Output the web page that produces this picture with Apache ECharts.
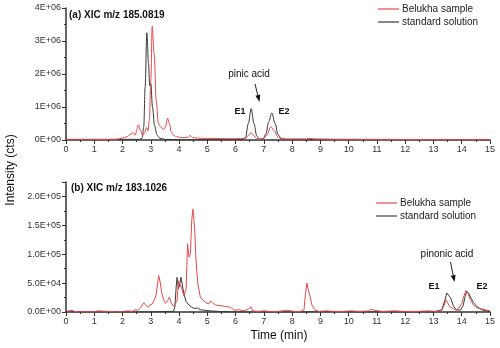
<!DOCTYPE html>
<html>
<head>
<meta charset="utf-8">
<script src="https://cdn.jsdelivr.net/npm/echarts@6/dist/echarts.min.js"></script>
<style>
html, body { margin: 0; padding: 0; background: #fff; }
#chart { width: 500px; height: 348px; }
</style>
</head>
<body>
<div id="chart"></div>
<script>
// series names
var names = ['Belukha sample', 'standard solution'];

// (a) XIC m/z 185.0819  -- [time (min), intensity (cts)]
var sampleA = [
    [0, 1e4], [1, 1e4], [1.8, 2e4], [2.0, 6e4], [2.15, 1e5], [2.3, 1.8e5], [2.37, 2.2e5], [2.45, 1.5e5],
    [2.52, 3.5e5], [2.56, 4.6e5], [2.63, 3e5], [2.7, 1.5e5], [2.77, 2e5], [2.85, 3.8e5], [2.9, 2.8e5],
    [2.95, 6e5], [3.0, 1.8e6], [3.05, 3.45e6], [3.12, 2.6e6], [3.19, 1.2e6], [3.27, 5e5], [3.35, 4e5],
    [3.45, 3.2e5], [3.52, 4e5], [3.59, 6.6e5], [3.66, 5e5], [3.72, 2.5e5], [3.8, 1.5e5], [3.9, 1e5],
    [4.1, 7e4], [4.3, 8e4], [4.4, 1.3e5], [4.5, 7e4], [4.8, 5e4], [5.2, 5e4], [5.6, 4e4], [6.0, 4e4],
    [6.35, 5e4], [6.45, 1.4e5], [6.55, 2.2e5], [6.65, 1.3e5], [6.75, 4e4], [6.88, 2e4], [7.0, 4e4],
    [7.1, 1.5e5], [7.25, 4e5], [7.37, 2.8e5], [7.48, 1e5], [7.6, 4e4], [7.8, 3e4], [8.5, 3e4],
    [8.65, 5e4], [8.8, 3e4], [9.5, 2e4], [12, 1.5e4], [15, 1e4]
];
var standardA = [
    [0, 2e4], [1, 2e4], [2, 2e4], [2.6, 2e4], [2.7, 6e4], [2.75, 4e5], [2.8, 1.6e6], [2.86, 3.25e6],
    [2.92, 2.3e6], [2.96, 1.65e6], [3.0, 1.72e6], [3.06, 1e6], [3.13, 4.5e5], [3.22, 1.5e5], [3.32, 5e4],
    [3.5, 2e4], [4, 1e4], [6.25, 1e4], [6.35, 8e4], [6.45, 5e5], [6.55, 9.5e5], [6.65, 5e5],
    [6.75, 1.2e5], [6.85, 3e4], [6.97, 3e4], [7.07, 1.8e5], [7.17, 5.5e5], [7.28, 8.2e5], [7.4, 5e5],
    [7.5, 1.6e5], [7.62, 4e4], [7.8, 2e4], [15, 1e4]
];

// (b) XIC m/z 183.1026
var sampleB = [
    [0, 2e3], [0.05, 4e3], [0.1, 1e3], [0.2, 3e3], [0.3, 1e3], [0.5, 0], [0.7, 1e3], [1.0, 0], [1.1, 2e3],
    [1.5, 1e3], [1.8, 0], [2.0, 1e3], [2.2, 2e3], [2.35, 1e3], [2.45, 4e3], [2.55, 3e3], [2.65, 8e3],
    [2.75, 1.6e4], [2.82, 1.2e4], [2.9, 8e3], [2.97, 1.2e4], [3.05, 1.4e4], [3.12, 2e4], [3.18, 2.8e4],
    [3.23, 4.5e4], [3.28, 6.3e4], [3.33, 5.2e4], [3.38, 3.5e4], [3.45, 2.2e4], [3.52, 1.5e4], [3.6, 2e4],
    [3.66, 2.6e4], [3.72, 1.6e4], [3.8, 1e4], [3.87, 1.3e4], [3.93, 2e4], [3.98, 5.4e4], [4.04, 5.7e4],
    [4.1, 4e4], [4.17, 2.8e4], [4.25, 4e4], [4.3, 1.18e5], [4.35, 9.5e4], [4.4, 1e5], [4.45, 1.6e5],
    [4.49, 1.78e5], [4.55, 1.45e5], [4.6, 9e4], [4.66, 5e4], [4.75, 2.6e4], [4.85, 2e4], [4.95, 1.6e4],
    [5.05, 1.4e4], [5.12, 1.9e4], [5.2, 1.5e4], [5.3, 1.2e4], [5.45, 1.1e4], [5.6, 1e4], [5.75, 9e3],
    [5.85, 7e3], [5.95, 3e3], [6.1, 4e3], [6.3, 2e3], [6.45, 5e3], [6.55, 9e3], [6.6, 2e3], [6.8, 1e3],
    [7.0, 2e3], [7.2, 1e3], [7.5, 1e3], [7.8, 3e3], [7.95, 2e3], [8.1, 1e3], [8.3, 1e3], [8.42, 4e3],
    [8.47, 3e4], [8.52, 5e4], [8.57, 3.8e4], [8.63, 2.8e4], [8.7, 1.2e4], [8.8, 4e3], [8.95, 1e3],
    [9.2, 2e3], [9.5, 1e3], [9.8, 1e3], [10.1, 2e3], [10.4, 1e3], [10.7, 2e3], [10.8, 5e3], [10.9, 3e3],
    [11.2, 1e3], [11.6, 2e3], [12.0, 1e3], [12.4, 1e3], [12.8, 2e3], [13.1, 1e3], [13.3, 3e3],
    [13.38, 1.2e4], [13.44, 2.1e4], [13.5, 1.6e4], [13.58, 9e3], [13.7, 6e3], [13.8, 3e3], [13.9, 7e3],
    [14.0, 1.5e4], [14.08, 2.8e4], [14.15, 3.7e4], [14.22, 3.2e4], [14.3, 2.2e4], [14.4, 1.3e4],
    [14.5, 8e3], [14.6, 6e3], [14.75, 5e3], [14.9, 3e3], [15, 2e3]
];
var standardB = [
    [0, 1e3], [0.2, 2e3], [0.3, 0], [1.0, 0], [2, 0], [3, 0], [3.5, 1e3], [3.8, 1e3], [3.85, 8e3],
    [3.9, 4.5e4], [3.93, 6e4], [3.98, 4e4], [4.03, 5e4], [4.07, 6e4], [4.12, 4.5e4], [4.18, 3e4],
    [4.25, 1.8e4], [4.35, 1.2e4], [4.45, 8e3], [4.55, 6e3], [4.65, 7e3], [4.75, 4e3], [4.9, 3e3],
    [5.1, 2e3], [5.4, 1e3], [6, 0], [8, 0], [10, 1e3], [10.2, 0], [13, 0], [13.3, 4e3], [13.4, 2e4],
    [13.47, 3.3e4], [13.52, 3.4e4], [13.6, 2.5e4], [13.7, 1.1e4], [13.8, 4e3], [13.95, 3e3], [14.05, 1.1e4],
    [14.12, 2.7e4], [14.18, 3.6e4], [14.25, 3.2e4], [14.32, 2.5e4], [14.42, 1.6e4], [14.55, 9e3],
    [14.7, 4e3], [14.85, 2e3], [15, 1e3]
];

var red = '#e5484b', dark = '#3a3a3a', axisCol = '#333';
var font = '"Liberation Sans", Arial, sans-serif';

function fmtA(v) {
    if (v == 0) return '0E+00';
    return (v / 1e6) + 'E+06';
}
function fmtB(v) {
    if (v == 0) return '0.0E+00';
    var e = Math.floor(Math.log10(v) + 1e-9);
    return (v / Math.pow(10, e)).toFixed(1) + 'E+0' + e;
}

function xAxisFor(idx) {
    return {
        type: 'value', gridIndex: idx, min: 0, max: 15, interval: 1,
        axisLine: {lineStyle: {color: axisCol, width: 1.5}},
        axisTick: {inside: false, length: 4, lineStyle: {color: axisCol}},
        minorTick: {show: true, splitNumber: 2, length: 2, lineStyle: {color: axisCol}},
        axisLabel: {color: '#333', fontSize: 9, fontFamily: font, margin: 5},
        splitLine: {show: false}
    };
}
function yAxisFor(idx, max, interval, fmt) {
    return {
        type: 'value', gridIndex: idx, min: 0, max: max, interval: interval,
        axisLine: {show: true, lineStyle: {color: axisCol, width: 1.5}},
        axisTick: {show: true, inside: false, length: 4, lineStyle: {color: axisCol}},
        minorTick: {show: true, splitNumber: 2, length: 2, lineStyle: {color: axisCol}},
        axisLabel: {color: '#333', fontSize: 9, fontFamily: font, margin: 5, formatter: fmt, showMaxLabel: idx == 0},
        splitLine: {show: false}
    };
}
function lineSeries(name, data, idx, color, smooth) {
    return {
        name: name, type: 'line', data: data, xAxisIndex: idx, yAxisIndex: idx,
        symbol: 'none', smooth: smooth ? 0.35 : false, smoothMonotone: 'x',
        lineStyle: {color: color, width: 1}, itemStyle: {color: color},
        animation: false
    };
}
function legendAt(left, top) {
    return {
        left: left, top: top, orient: 'vertical', padding: 0, itemGap: 3,
        icon: 'rect', itemWidth: 21, itemHeight: 1.2, data: names,
        textStyle: {fontSize: 10, fontFamily: font, color: '#222', lineHeight: 10, padding: [0, 0, 0, -2]}
    };
}
function arrow(x1, y1, x2, y2) {
    var a = Math.atan2(y2 - y1, x2 - x1), l = 7, w = 2.5;
    var bx = x2 - l * Math.cos(a), by = y2 - l * Math.sin(a);
    return [
        {type: 'line', shape: {x1: x1, y1: y1, x2: bx, y2: by}, style: {stroke: '#222', lineWidth: 1}},
        {type: 'polygon', shape: {points: [[x2, y2],
            [bx + w * Math.sin(a), by - w * Math.cos(a)],
            [bx - w * Math.sin(a), by + w * Math.cos(a)]]}, style: {fill: '#111'}}
    ];
}
function label(text, x, y, opts) {
    var s = {text: text, x: x, y: y, fill: '#111', font: (opts.bold ? 'bold ' : '') + opts.size + 'px ' + font,
        textAlign: opts.align || 'left', textVerticalAlign: 'middle'};
    var el = {type: 'text', style: s};
    if (opts.rotation) { el.rotation = opts.rotation; el.x = x; el.y = y; s.x = 0; s.y = 0; }
    return el;
}

var chart = echarts.init(document.getElementById('chart'), null, {renderer: 'canvas'});
var graphics = [
    label('(a) XIC m/z 185.0819', 69, 15, {size: 10, bold: true}),
    label('(b) XIC m/z 183.1026', 71, 188, {size: 10, bold: true}),
    label('pinic acid', 249, 74, {size: 10, align: 'center'}),
    label('E1', 240, 112, {size: 9, bold: true, align: 'center'}),
    label('E2', 284, 112, {size: 9, bold: true, align: 'center'}),
    label('pinonic acid', 447, 254, {size: 10, align: 'center'}),
    label('E1', 434, 287, {size: 9, bold: true, align: 'center'}),
    label('E2', 482, 287, {size: 9, bold: true, align: 'center'}),
    label('Time (min)', 279, 336, {size: 12, align: 'center'}),
    label('Intensity (cts)', 11, 170, {size: 12, align: 'center', rotation: Math.PI / 2})
].concat(arrow(255, 84, 259.5, 102)).concat(arrow(450.5, 262, 454.5, 282));

chart.setOption({
    backgroundColor: '#fff',
    animation: false,
    grid: [
        {left: 66, right: 10, top: 8, height: 132},
        {left: 66, right: 10, top: 182, height: 130}
    ],
    legend: [legendAt(378, 4), legendAt(376, 198)],
    xAxis: [xAxisFor(0), xAxisFor(1)],
    yAxis: [yAxisFor(0, 4e6, 1e6, fmtA), yAxisFor(1, 225000, 50000, fmtB)],
    series: [
        lineSeries(names[1], standardA, 0, dark, true),
        lineSeries(names[0], sampleA, 0, red, true),
        lineSeries(names[1], standardB, 1, dark, false),
        lineSeries(names[0], sampleB, 1, red, false)
    ],
    graphic: graphics
});
</script>
</body>
</html>
